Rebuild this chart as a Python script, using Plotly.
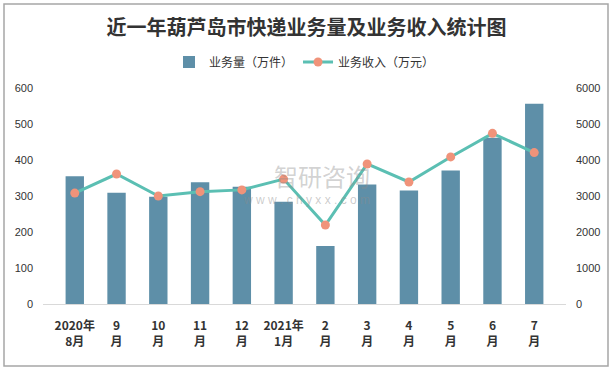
import plotly.graph_objects as go

categories = ["2020年<br>8月", "9<br>月", "10<br>月", "11<br>月", "12<br>月", "2021年<br>1月",
              "2<br>月", "3<br>月", "4<br>月", "5<br>月", "6<br>月", "7<br>月"]
volume = [355, 309, 298, 338, 326, 284, 161, 332, 315, 371, 462, 556]
revenue = [3080, 3610, 3000, 3120, 3170, 3470, 2195, 3890, 3390, 4085, 4740, 4205]

bar_color = "#5E8FA8"
line_color = "#5BBFB3"
marker_color = "#F0937A"
tick_font = dict(family="Liberation Sans, Noto Sans CJK SC", size=11, color="#333333")

fig = go.Figure()
fig.add_trace(go.Bar(x=categories, y=volume, name="业务量（万件）",
                     marker=dict(color=bar_color, line=dict(width=0)), yaxis="y"))
fig.add_trace(go.Scatter(x=categories, y=revenue, name="业务收入（万元）", mode="lines+markers",
                         line=dict(color=line_color, width=3),
                         marker=dict(color=marker_color, size=9), yaxis="y2"))

fig.update_layout(
    width=613, height=370,
    margin=dict(l=43, r=47, t=88, b=66, autoexpand=False),
    paper_bgcolor="white", plot_bgcolor="white",
    title=dict(text="<b>近一年葫芦岛市快递业务量及业务收入统计图</b>", x=0.5, xanchor="center",
               y=1 - 28 / 370, yanchor="middle",
               font=dict(family="Noto Sans CJK SC", size=20, color="#333333")),
    legend=dict(orientation="h", x=0.5, xanchor="center", y=(304 - 62) / 216, yanchor="middle",
                font=dict(family="Noto Sans CJK SC", size=12, color="#333333"),
                itemwidth=30, tracegroupgap=0),
    bargap=0.56,
    showlegend=True,
    xaxis=dict(showline=True, linecolor="#D9D9D9", linewidth=1, showgrid=False, ticks="",
               tickfont=dict(family="Noto Sans CJK SC", size=12, color="#333333", weight="bold"),
               tickangle=0, fixedrange=True, automargin=False, ticklabelstandoff=11),
    yaxis=dict(range=[0, 600], dtick=100, showgrid=False, zeroline=False, showline=False,
               tickfont=tick_font, ticks="", ticklabelstandoff=9, automargin=False),
    yaxis2=dict(range=[0, 6000], dtick=1000, overlaying="y", side="right", showgrid=False,
                zeroline=False, showline=False, tickfont=tick_font, ticks="",
                ticklabelstandoff=9, automargin=False),
    shapes=[dict(type="rect", xref="paper", yref="paper",
                 x0=-39 / 523, x1=(608 - 43) / 523, y0=-(366 - 304) / 216, y1=(304 - 4) / 216,
                 line=dict(color="#A6A6A6", width=1.5), fillcolor="rgba(0,0,0,0)", layer="below")],
    annotations=[
        dict(text="智研咨询", x=(322 - 43) / 523, y=(304 - 175) / 216, xref="paper", yref="paper",
             showarrow=False,
             font=dict(family="Noto Sans CJK SC", size=24, color="rgba(140,140,140,0.4)")),
        dict(text="w w w . c h y x x . c o m", x=(306 - 43) / 523, y=(304 - 200) / 216,
             xref="paper", yref="paper", showarrow=False,
             font=dict(family="Liberation Sans", size=12, color="rgba(140,140,140,0.45)")),
    ],
)

fig.write_html("out.html", config={"displayModeBar": False},
               post_script="document.body.style.margin='0';document.body.style.overflow='hidden';")
